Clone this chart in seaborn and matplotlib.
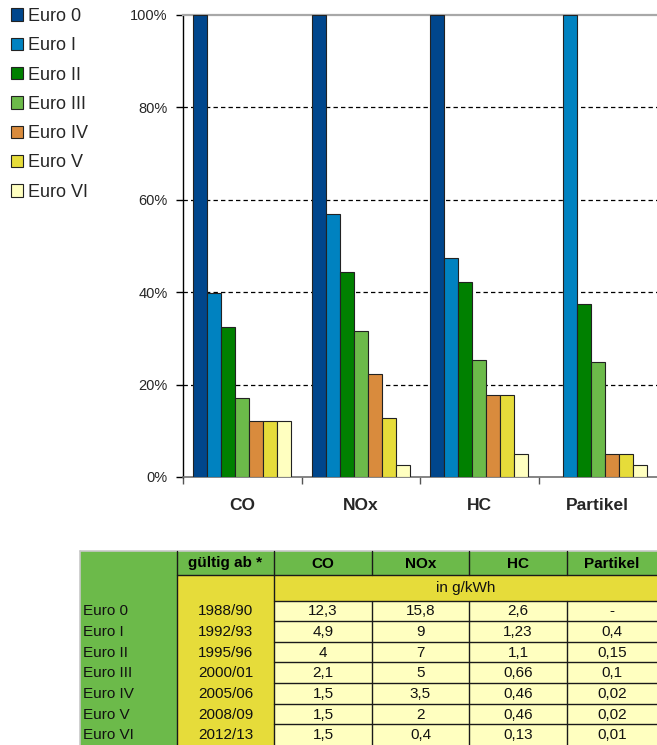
import numpy as np
import pandas as pd
import matplotlib
matplotlib.use("Agg")
import matplotlib.pyplot as plt
from matplotlib.patches import Rectangle
from matplotlib.ticker import FixedLocator, FuncFormatter
import seaborn as sns

# ---------------- data ----------------
pollutants = ["CO", "NOx", "HC", "Partikel"]
stages = ["Euro 0", "Euro I", "Euro II", "Euro III", "Euro IV", "Euro V", "Euro VI"]
pct_euro0 = [100.0, 100.0, 100.0, np.nan]
pct_euro1 = [39.8, 57.0, 47.3, 100.0]
pct_euro2 = [32.5, 44.3, 42.3, 37.5]
pct_euro3 = [17.1, 31.6, 25.4, 25.0]
pct_euro4 = [12.2, 22.2, 17.7, 5.0]
pct_euro5 = [12.2, 12.7, 17.7, 5.0]
pct_euro6 = [12.2, 2.5, 5.0, 2.5]
y_ticks = [0, 20, 40, 60, 80, 100]

tbl_header = ["gültig ab *", "CO", "NOx", "HC", "Partikel"]
tbl_unit = "in g/kWh"
tbl_years = ["1988/90", "1992/93", "1995/96", "2000/01", "2005/06", "2008/09", "2012/13"]
tbl_co = ["12,3", "4,9", "4", "2,1", "1,5", "1,5", "1,5"]
tbl_nox = ["15,8", "9", "7", "5", "3,5", "2", "0,4"]
tbl_hc = ["2,6", "1,23", "1,1", "0,66", "0,46", "0,46", "0,13"]
tbl_pm = ["-", "0,4", "0,15", "0,1", "0,02", "0,02", "0,01"]

colors = ["#00468C", "#0082C0", "#008000", "#6CBA4A", "#D98B3D", "#E6DC3A", "#FFFFC0"]

# ---------------- style ----------------
sns.set_theme(style="white")
plt.rcParams["font.family"] = ["Liberation Sans", "DejaVu Sans"]

W, H = 657, 745
fig = plt.figure(figsize=(W / 100, H / 100), dpi=100)

rows = []
series = [pct_euro0, pct_euro1, pct_euro2, pct_euro3, pct_euro4, pct_euro5, pct_euro6]
for s, vals in zip(stages, series):
    for p, v in zip(pollutants, vals):
        rows.append({"Schadstoff": p, "Stufe": s, "Wert": v})
df = pd.DataFrame(rows)

L, R, T, B = 183, 657, 15, 477
ax = fig.add_axes([L / W, 1 - B / H, (R - L) / W, (B - T) / H])
sns.barplot(data=df, x="Schadstoff", y="Wert", hue="Stufe", order=pollutants,
            hue_order=stages, palette=colors, width=0.83, errorbar=None,
            edgecolor="#222222", linewidth=0.8, saturation=1, ax=ax, zorder=3)

ax.set_xlim(-0.5, 3.5)
ax.set_ylim(0, 100)
ax.set_xlabel("")
ax.set_ylabel("")
ax.yaxis.set_major_locator(FixedLocator(y_ticks))
ax.yaxis.set_major_formatter(FuncFormatter(lambda v, p: f"{int(v)}%"))
for yv in y_ticks[1:-1]:
    ax.axhline(yv, color="black", lw=0.9, ls=(0, (3.5, 2.5)), zorder=1)

ax.tick_params(axis="y", direction="out", length=5, width=1, color="black",
               labelsize=10.5, pad=6, left=True)
ax.tick_params(axis="x", which="major", length=0, pad=15, labelsize=12.5)
for lab in ax.get_xticklabels():
    lab.set_fontweight("bold")
ax.xaxis.set_minor_locator(FixedLocator([-0.5, 0.5, 1.5, 2.5]))
ax.tick_params(axis="x", which="minor", direction="out", length=5, width=1,
               color="#555555", bottom=True)

ax.spines["right"].set_visible(False)
ax.spines["top"].set_color("#A8A8A8")
ax.spines["top"].set_linewidth(1.6)
ax.spines["left"].set_color("black")
ax.spines["left"].set_linewidth(1.0)
ax.spines["bottom"].set_color("#707070")
ax.spines["bottom"].set_linewidth(1.2)

handles, labels = ax.get_legend_handles_labels()
ax.legend_.remove()
fig.legend(handles, labels, loc="upper left", bbox_to_anchor=(11 / W, 1 - 8 / H),
           frameon=False, fontsize=13, handlelength=0.68, handleheight=0.68,
           handletextpad=0.25, labelspacing=0.68, borderpad=0, borderaxespad=0)

# ---------------- table ----------------
tx = fig.add_axes([0, 0, 1, 1], zorder=-1)
tx.set_xlim(0, W)
tx.set_ylim(H, 0)
tx.axis("off")

col_edges = [80, 177, 274, 372, 469, 567, 670]
top, hdr_bot, unit_bot = 551, 575, 600.5
row_h = 20.65
bottom = H + 5
green, yellow, light = "#6CBA4A", "#E6DC3A", "#FFFFC0"

tx.add_patch(Rectangle((col_edges[0], top), col_edges[1] - col_edges[0], bottom - top,
                       facecolor=green, edgecolor="none"))
tx.add_patch(Rectangle((col_edges[1], top), col_edges[-1] - col_edges[1], hdr_bot - top,
                       facecolor=green, edgecolor="none"))
tx.add_patch(Rectangle((col_edges[1], hdr_bot), col_edges[2] - col_edges[1], bottom - hdr_bot,
                       facecolor=yellow, edgecolor="none"))
tx.add_patch(Rectangle((col_edges[2], hdr_bot), col_edges[-1] - col_edges[2], unit_bot - hdr_bot,
                       facecolor=yellow, edgecolor="none"))
tx.add_patch(Rectangle((col_edges[2], unit_bot), col_edges[-1] - col_edges[2], bottom - unit_bot,
                       facecolor=light, edgecolor="none"))

lc, lw = "#1a1a1a", 1.0
tx.plot([col_edges[0], col_edges[-1]], [top, top], color="#C8C8C8", lw=1.2)
tx.plot([col_edges[0], col_edges[0]], [top, bottom], color="#C8C8C8", lw=1.2)
for xe in col_edges[1:3]:
    tx.plot([xe, xe], [top, bottom], color=lc, lw=lw)
for xe in col_edges[3:6]:
    tx.plot([xe, xe], [top, hdr_bot], color=lc, lw=lw)
    tx.plot([xe, xe], [unit_bot, bottom], color=lc, lw=lw)
tx.plot([col_edges[1], col_edges[-1]], [hdr_bot, hdr_bot], color=lc, lw=lw)
for i in range(len(stages)):
    yl = unit_bot + i * row_h
    tx.plot([col_edges[2], col_edges[-1]], [yl, yl], color=lc, lw=lw)

fs = 11
for j, h in enumerate(tbl_header):
    cx = (col_edges[j + 1] + col_edges[j + 2]) / 2
    if j == len(tbl_header) - 1:
        cx = (col_edges[j + 1] + W) / 2
    tx.text(cx, (top + hdr_bot) / 2 + 0.5, h, ha="center", va="center",
            fontsize=fs, fontweight="bold", color="black")
tx.text((col_edges[2] + W) / 2, (hdr_bot + unit_bot) / 2, tbl_unit, ha="center",
        va="center", fontsize=fs, color="#111111")

cols = [tbl_years, tbl_co, tbl_nox, tbl_hc, tbl_pm]
for i, st in enumerate(stages):
    cy = unit_bot + (i + 0.5) * row_h + 0.5
    tx.text(col_edges[0] + 3, cy, st, ha="left", va="center", fontsize=fs, color="#111111")
    for j, col in enumerate(cols):
        cx = (col_edges[j + 1] + col_edges[j + 2]) / 2
        if j == len(cols) - 1:
            cx = (col_edges[j + 1] + W) / 2
        tx.text(cx, cy, col[i], ha="center", va="center", fontsize=fs, color="#111111")

fig.savefig("out.png", dpi=100)
